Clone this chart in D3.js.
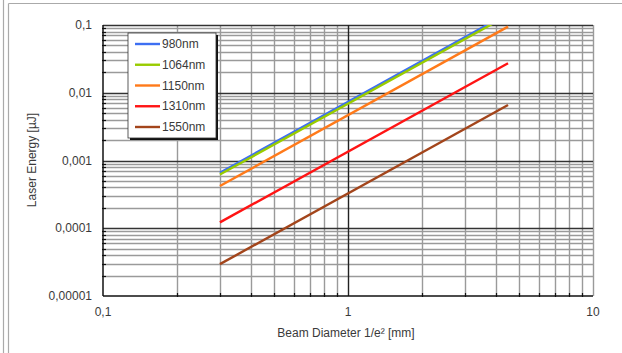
<!DOCTYPE html>
<html>
<head>
<meta charset="utf-8">
<script src="https://cdn.jsdelivr.net/npm/d3@7"></script>
<style>
  body { margin: 0; background: #fff; }
  text { font-family: "Liberation Sans", Arial, sans-serif; fill: #3a3a3a; }
</style>
</head>
<body>
<svg id="chart_svg" width="622" height="353"></svg>
<script>
// data
var diameters = [0.3, 4.5];
var wavelengths = ["980nm", "1064nm", "1150nm", "1310nm", "1550nm"];
var colors = ["#3d6ff2", "#99cc00", "#ff7a1a", "#ff1414", "#a3451b"];
var e980 = [0.00066, 0.1485];
var e1064 = [0.00062, 0.1395];
var e1150 = [0.00042, 0.0945];
var e1310 = [0.000122, 0.0273];
var e1550 = [0.0000295, 0.0066];
var energies = [e980, e1064, e1150, e1310, e1550];
var xTickLabels = ["0,1", "1", "10"];
var yTickLabels = ["0,1", "0,01", "0,001", "0,0001", "0,00001"];

var margin = {top: 25, left: 103, right: 29, bottom: 57};
var W = 622, H = 353;

function draw_chart() {
    var base = d3.select('#chart_svg');

    // outer frame
    base.append("line").attr("x1", 3.5).attr("x2", 3.5).attr("y1", 0).attr("y2", H)
        .attr("stroke", "#aaa").attr("stroke-width", 1.2);
    base.append("line").attr("x1", 8.5).attr("x2", 8.5).attr("y1", 3.5).attr("y2", H)
        .attr("stroke", "#aaa").attr("stroke-width", 1.2);
    base.append("line").attr("x1", 8.5).attr("x2", W).attr("y1", 3.5).attr("y2", 3.5)
        .attr("stroke", "#aaa").attr("stroke-width", 1.2);

    var x = d3.scaleLog().domain([0.1, 10]).range([margin.left, W - margin.right]);
    var y = d3.scaleLog().domain([0.00001, 0.1]).range([H - margin.bottom, margin.top]);

    var g = base.append("g");

    // minor grid
    var xMinor = [], yMinor = [];
    [0.1, 1].forEach(function (d) { for (var k = 2; k <= 9; k++) xMinor.push(d * k); });
    [0.00001, 0.0001, 0.001, 0.01].forEach(function (d) { for (var k = 2; k <= 9; k++) yMinor.push(d * k); });

    g.selectAll(".xminor").data(xMinor.concat([10])).enter().append("line")
        .attr("x1", function (d) { return Math.round(x(d)) + 0.5; })
        .attr("x2", function (d) { return Math.round(x(d)) + 0.5; })
        .attr("y1", y(0.1)).attr("y2", y(0.00001))
        .attr("stroke", "#9a9a9a").attr("stroke-width", 1.4);
    g.selectAll(".yminor").data(yMinor).enter().append("line")
        .attr("x1", x(0.1)).attr("x2", x(10))
        .attr("y1", function (d) { return Math.round(y(d)) + 0.5; })
        .attr("y2", function (d) { return Math.round(y(d)) + 0.5; })
        .attr("stroke", "#9a9a9a").attr("stroke-width", 1.4);

    // major grid
    g.selectAll(".ymajor").data([0.1, 0.01, 0.001, 0.0001]).enter().append("line")
        .attr("x1", x(0.1)).attr("x2", x(10))
        .attr("y1", function (d) { return Math.round(y(d)) + 0.5; })
        .attr("y2", function (d) { return Math.round(y(d)) + 0.5; })
        .attr("stroke", "#333").attr("stroke-width", 1.4);
    g.append("line")
        .attr("x1", Math.round(x(1)) + 0.5).attr("x2", Math.round(x(1)) + 0.5)
        .attr("y1", y(0.1)).attr("y2", y(0.00001))
        .attr("stroke", "#222").attr("stroke-width", 1.4);

    // axes lines
    g.append("line").attr("x1", x(0.1)).attr("x2", x(0.1))
        .attr("y1", y(0.1)).attr("y2", y(0.00001)).attr("stroke", "#111").attr("stroke-width", 1.5);
    g.append("line").attr("x1", x(0.1)).attr("x2", x(10))
        .attr("y1", y(0.00001)).attr("y2", y(0.00001)).attr("stroke", "#111").attr("stroke-width", 1.5);

    // tick marks
    g.selectAll(".yt").data(yMinor).enter().append("line")
        .attr("x1", x(0.1) - 1).attr("x2", x(0.1) + 3)
        .attr("y1", function (d) { return Math.round(y(d)) + 0.5; })
        .attr("y2", function (d) { return Math.round(y(d)) + 0.5; })
        .attr("stroke", "#111").attr("stroke-width", 1.2);
    g.selectAll(".xt").data(xMinor).enter().append("line")
        .attr("x1", function (d) { return Math.round(x(d)) + 0.5; })
        .attr("x2", function (d) { return Math.round(x(d)) + 0.5; })
        .attr("y1", y(0.00001) - 3).attr("y2", y(0.00001) + 1)
        .attr("stroke", "#111").attr("stroke-width", 1.2);

    // tick labels
    var yTicks = [0.1, 0.01, 0.001, 0.0001, 0.00001];
    g.selectAll(".ylab").data(yTicks).enter().append("text")
        .text(function (d, i) { return yTickLabels[i]; })
        .attr("x", 92).attr("y", function (d) { return y(d); })
        .attr("text-anchor", "end").attr("dominant-baseline", "central")
        .attr("font-size", "12px");
    g.selectAll(".xlab").data([0.1, 1, 10]).enter().append("text")
        .text(function (d, i) { return xTickLabels[i]; })
        .attr("x", function (d) { return x(d); }).attr("y", 312)
        .attr("text-anchor", "middle").attr("dominant-baseline", "central")
        .attr("font-size", "12px");

    // axis titles
    g.append("text").text("Beam Diameter 1/e² [mm]")
        .attr("x", 346).attr("y", 333)
        .attr("text-anchor", "middle").attr("dominant-baseline", "central")
        .attr("font-size", "12px");
    g.append("text").text("Laser Energy [µJ]")
        .attr("transform", "translate(32,160) rotate(-90)")
        .attr("text-anchor", "middle").attr("dominant-baseline", "central")
        .attr("font-size", "12px");

    // series lines
    base.append("clipPath").attr("id", "plot-clip").append("rect")
        .attr("x", x(0.1)).attr("y", y(0.1))
        .attr("width", x(10) - x(0.1)).attr("height", y(0.00001) - y(0.1));
    var line = d3.line()
        .x(function (d, i) { return x(diameters[i]); })
        .y(function (d) { return y(d); });
    var lineGroup = base.append("g").attr("clip-path", "url(#plot-clip)");
    lineGroup.selectAll(".series").data(energies).enter().append("path")
        .attr("d", line)
        .attr("fill", "none")
        .attr("stroke", function (d, i) { return colors[i]; })
        .attr("stroke-width", 2.4);

    // legend
    var legendGroup = base.append("g").attr("id", "legend-group");
    legendGroup.append("rect")
        .attr("x", 130).attr("y", 35).attr("width", 88).attr("height", 105)
        .attr("fill", "#111");
    legendGroup.append("rect")
        .attr("x", 128).attr("y", 33).attr("width", 88).attr("height", 105)
        .attr("fill", "#fff").attr("stroke", "#333").attr("stroke-width", 0.8);
    var items = legendGroup.selectAll(".item").data(wavelengths).enter().append("g")
        .attr("transform", function (d, i) { return "translate(135," + (44 + i * 20.75) + ")"; });
    items.append("line").attr("x1", 0).attr("x2", 25).attr("y1", 0).attr("y2", 0)
        .attr("stroke", function (d, i) { return colors[i]; }).attr("stroke-width", 2.4);
    items.append("text").text(function (d) { return d; })
        .attr("x", 27).attr("y", 0)
        .attr("dominant-baseline", "central")
        .attr("font-size", "12px");
}

draw_chart();
</script>
</body>
</html>
